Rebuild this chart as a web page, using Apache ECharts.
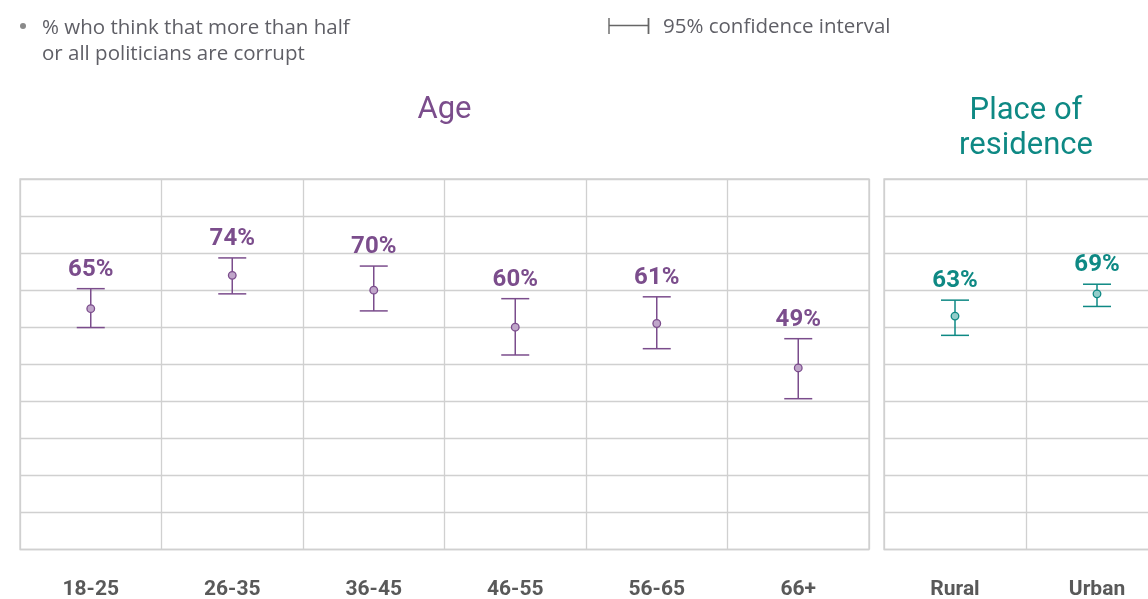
<!DOCTYPE html>
<html>
<head>
<meta charset="utf-8">
<script src="https://cdn.jsdelivr.net/npm/echarts@6/dist/echarts.min.js"></script>
<style>
html,body{margin:0;padding:0;background:#fff;}
#main{width:1148px;height:599px;}
</style>
</head>
<body>
<div id="main"></div>
<script>
// ---- data ----
const ageCategories = ['18-25', '26-35', '36-45', '46-55', '56-65', '66+'];
const ageValues = [65, 74, 70, 60, 61, 49];
const ageLower = [59.9, 69.0, 64.4, 52.5, 54.2, 40.7];
const ageUpper = [70.4, 78.7, 76.5, 67.7, 68.2, 56.9];

const placeCategories = ['Rural', 'Urban'];
const placeValues = [63, 69];
const placeLower = [57.8, 65.6];
const placeUpper = [67.3, 71.6];

const yTicks = [0, 10, 20, 30, 40, 50, 60, 70, 80, 90, 100];

const PURPLE = '#7b4d8c';
const PURPLE_LIGHT = '#c0a6ca';
const TEAL = '#0e8984';
const TEAL_LIGHT = '#93cdca';

function rows(vals, lo, hi) {
  return vals.map((v, i) => [i, v, lo[i], hi[i]]);
}

function makeRender(color, fillColor) {
  return function (params, api) {
    const x = api.value(0), v = api.value(1), lo = api.value(2), hi = api.value(3);
    const p = api.coord([x, v]);
    const pl = api.coord([x, lo]);
    const ph = api.coord([x, hi]);
    const hw = 14;
    return {
      type: 'group',
      children: [
        { type: 'line', shape: { x1: ph[0], y1: ph[1], x2: pl[0], y2: pl[1] }, style: { stroke: color, lineWidth: 1.5 } },
        { type: 'line', shape: { x1: ph[0] - hw, y1: ph[1], x2: ph[0] + hw, y2: ph[1] }, style: { stroke: color, lineWidth: 1.5 } },
        { type: 'line', shape: { x1: pl[0] - hw, y1: pl[1], x2: pl[0] + hw, y2: pl[1] }, style: { stroke: color, lineWidth: 1.5 } },
        { type: 'circle', shape: { cx: p[0], cy: p[1], r: 3.8 }, style: { fill: fillColor, stroke: color, lineWidth: 1.3 } },
        { type: 'text', x: ph[0], y: ph[1] - 19, style: { text: Math.round(v) + '%', fill: color, font: 'bold 24px Roboto', align: 'center', verticalAlign: 'middle' } }
      ]
    };
  };
}

const axisLabelStyle = { color: '#595959', fontFamily: 'Roboto', fontWeight: 'bold', fontSize: 21, margin: 30 };
const gridLine = { show: true, lineStyle: { color: '#d0d0d0', width: 1.3 } };

const chart = echarts.init(document.getElementById('main'));
chart.setOption({
  animation: false,
  backgroundColor: '#fff',
  graphic: [
    { type: 'circle', shape: { cx: 23, cy: 26, r: 3 }, style: { fill: '#8a8a8a' } },
    { type: 'text', left: 42, top: 15, style: { text: '% who think that more than half\nor all politicians are corrupt', fill: '#5f5f66', font: '20.5px "Open Sans"', lineHeight: 26 } },
    { type: 'line', shape: { x1: 609, y1: 18, x2: 609, y2: 34 }, style: { stroke: '#666', lineWidth: 1.4 } },
    { type: 'line', shape: { x1: 609, y1: 25.5, x2: 648, y2: 25.5 }, style: { stroke: '#666', lineWidth: 1.4 } },
    { type: 'line', shape: { x1: 648.5, y1: 18, x2: 648.5, y2: 34 }, style: { stroke: '#666', lineWidth: 1.8 } },
    { type: 'text', left: 663, top: 17, style: { text: '95% confidence interval', fill: '#5f5f66', font: '20.5px "Open Sans"' } },
    { type: 'text', x: 444.5, y: 110, style: { text: 'Age', fill: PURPLE, font: '31px Roboto', align: 'center', verticalAlign: 'middle' } },
    { type: 'text', x: 1026, y: 128.5, style: { text: 'Place of\nresidence', fill: TEAL, font: '31px Roboto', align: 'center', verticalAlign: 'middle', lineHeight: 35 } }
  ],
  grid: [
    { left: 20, top: 179, width: 849, height: 370.5, show: true, borderColor: '#d0d0d0', borderWidth: 1.3, outerBoundsMode: 'none', containLabel: false },
    { left: 884, top: 179, width: 284, height: 370.5, show: true, borderColor: '#d0d0d0', borderWidth: 1.3, outerBoundsMode: 'none', containLabel: false }
  ],
  xAxis: [
    { type: 'category', gridIndex: 0, data: ageCategories, boundaryGap: true, axisLine: { show: false }, axisTick: { show: false }, axisLabel: axisLabelStyle, splitLine: gridLine },
    { type: 'category', gridIndex: 1, data: placeCategories, boundaryGap: true, axisLine: { show: false }, axisTick: { show: false }, axisLabel: axisLabelStyle, splitLine: gridLine }
  ],
  yAxis: [
    { type: 'value', gridIndex: 0, min: yTicks[0], max: yTicks[yTicks.length - 1], interval: yTicks[1] - yTicks[0], axisLabel: { show: false }, axisLine: { show: false }, axisTick: { show: false }, splitLine: gridLine },
    { type: 'value', gridIndex: 1, min: yTicks[0], max: yTicks[yTicks.length - 1], interval: yTicks[1] - yTicks[0], axisLabel: { show: false }, axisLine: { show: false }, axisTick: { show: false }, splitLine: gridLine }
  ],
  series: [
    { type: 'custom', xAxisIndex: 0, yAxisIndex: 0, data: rows(ageValues, ageLower, ageUpper), renderItem: makeRender(PURPLE, PURPLE_LIGHT), clip: false },
    { type: 'custom', xAxisIndex: 1, yAxisIndex: 1, data: rows(placeValues, placeLower, placeUpper), renderItem: makeRender(TEAL, TEAL_LIGHT), clip: false }
  ]
});
</script>
</body>
</html>
